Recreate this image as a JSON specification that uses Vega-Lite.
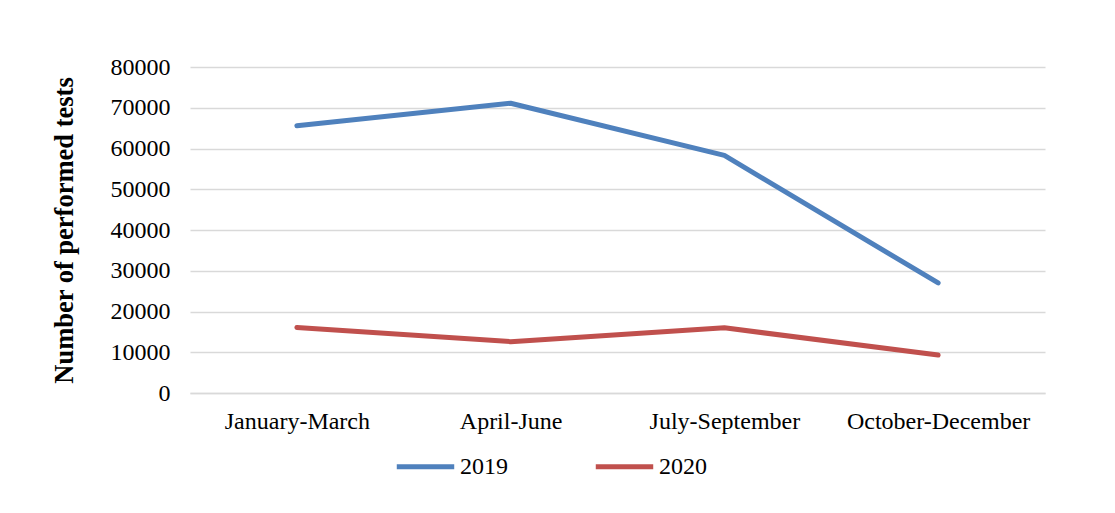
{
  "$schema": "https://vega.github.io/schema/vega-lite/v6.json",
  "width": 855,
  "height": 326,
  "autosize": {"type": "none"},
  "padding": {"left": 190, "top": 67, "right": 70, "bottom": 120},
  "background": "white",
  "config": {
    "view": {"stroke": null},
    "font": "Liberation Serif"
  },
  "data": {
    "values": [
      {"period": "January-March", "year": "2019", "tests": 65600},
      {"period": "April-June", "year": "2019", "tests": 71100},
      {"period": "July-September", "year": "2019", "tests": 58300},
      {"period": "October-December", "year": "2019", "tests": 27000},
      {"period": "January-March", "year": "2020", "tests": 16100},
      {"period": "April-June", "year": "2020", "tests": 12600},
      {"period": "July-September", "year": "2020", "tests": 16000},
      {"period": "October-December", "year": "2020", "tests": 9300}
    ]
  },
  "mark": {"type": "line", "strokeWidth": 5, "strokeCap": "round", "strokeJoin": "round"},
  "encoding": {
    "x": {
      "field": "period",
      "type": "nominal",
      "sort": ["January-March", "April-June", "July-September", "October-December"],
      "scale": {"type": "point", "padding": 0.5},
      "axis": {
        "title": null,
        "labelAngle": 0,
        "labelLimit": 0,
        "labelFont": "Liberation Serif",
        "labelFontSize": 24,
        "labelColor": "black",
        "labelPadding": 16,
        "ticks": false,
        "domainColor": "#d9d9d9",
        "domainWidth": 1.5,
        "grid": false
      }
    },
    "y": {
      "field": "tests",
      "type": "quantitative",
      "scale": {"domain": [0, 80000], "nice": false},
      "axis": {
        "title": "Number of performed tests",
        "titleFont": "Liberation Serif",
        "titleFontSize": 26.5,
        "titleFontWeight": "bold",
        "titleColor": "black",
        "titlePadding": 32,
        "values": [0, 10000, 20000, 30000, 40000, 50000, 60000, 70000, 80000],
        "format": "d",
        "labelFont": "Liberation Serif",
        "labelFontSize": 24,
        "labelColor": "black",
        "labelPadding": 20,
        "ticks": false,
        "domain": false,
        "grid": true,
        "gridColor": "#d9d9d9",
        "gridWidth": 1.5
      }
    },
    "color": {
      "field": "year",
      "type": "nominal",
      "scale": {"domain": ["2019", "2020"], "range": ["#4f81bd", "#c0504d"]},
      "legend": {
        "title": null,
        "orient": "none",
        "legendX": 204,
        "legendY": 368,
        "direction": "horizontal",
        "symbolType": "stroke",
        "symbolSize": 3300,
        "symbolStrokeWidth": 5,
        "labelFont": "Liberation Serif",
        "labelFontSize": 24,
        "labelColor": "black",
        "labelOffset": 3,
        "columnPadding": 77
      }
    }
  }
}
